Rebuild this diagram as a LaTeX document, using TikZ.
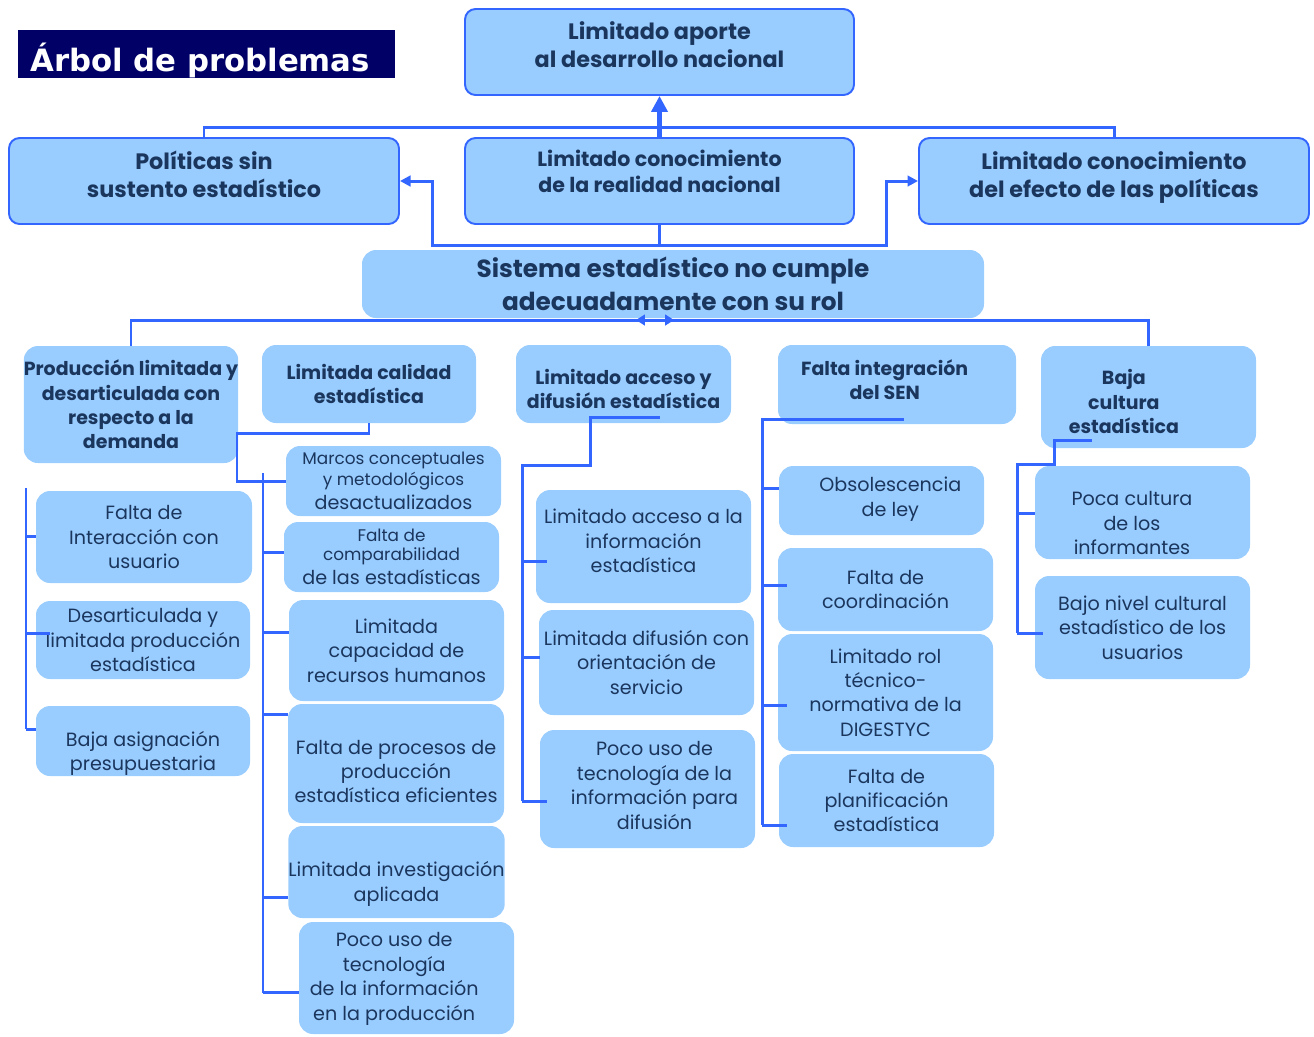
\documentclass[tikz,border=0pt]{standalone}
\usepackage{fontspec}
\setmainfont{Poppins}
\newfontfamily\headfont{DejaVu Sans}
\usetikzlibrary{arrows.meta}

\definecolor{cellfill}{HTML}{99CCFF}
\definecolor{linkblue}{HTML}{3366FF}
\definecolor{inkblue}{HTML}{1B365D}
\definecolor{titlenavy}{HTML}{000066}

\def\smallline{\fontsize{9.6}{12}\selectfont}
\def\bodyline{\fontsize{10.9}{13.9}\selectfont}
% Text block moved by (dx, dy) inside its box
\newcommand\offtext[3]{\raisebox{#2}[0pt][0pt]{\hspace*{#1}\begin{tabular}{@{}c@{}}#3\end{tabular}\hspace*{-#1}}}

\begin{document}
\begin{tikzpicture}[x=0.02cm, y=-0.02cm,
    cell/.style={rectangle, rounded corners=8pt, fill=cellfill, text=inkblue,
        inner sep=0pt, align=center, font=\bodyline},
    head/.style={cell, font=\bfseries\fontsize{10.8}{13.9}\selectfont},
    framed/.style={cell, rounded corners=6pt, draw=linkblue, line width=1.1pt,
        font=\bfseries\fontsize{12.7}{16.4}\selectfont},
    wh/.style 2 args={minimum width=#1*0.02cm, minimum height=#2*0.02cm},
    conn/.style={draw=linkblue, line width=1.7pt},
    tip/.style={-{Triangle[length=6pt,width=6pt]}}]
    \useasboundingbox (0,0) rectangle (1314,1036);

    % Title
    \node[fill=titlenavy, wh={377}{48}, inner sep=0pt] (title) at (206.5,54) {};
    \node[anchor=base west, text=white, inner sep=0pt,
        font=\headfont\bfseries\fontsize{17.5}{20}\selectfont] (titletext) at (30,71) {Árbol de problemas};

    % Effects
    \node[framed, wh={389}{86}, font=\bfseries\fontsize{12.7}{15.9}\selectfont] (top) at (659.5,52)
        {\offtext{0pt}{-0.8pt}{Limitado aporte\\al desarrollo nacional}};
    \node[framed, wh={390}{86}] (pol) at (204,181) {\offtext{0pt}{-1.1pt}{Políticas sin\\sustento estadístico}};
    \node[framed, wh={389}{86}, font=\bfseries\fontsize{11.7}{14.7}\selectfont] (real) at (659.5,181)
        {\offtext{0pt}{0.7pt}{Limitado conocimiento\\de la realidad nacional}};
    \node[framed, wh={390}{86}] (efec) at (1114,181) {\offtext{0pt}{-1.1pt}{Limitado conocimiento\\del efecto de las políticas}};

    % Central problem
    \node[cell, wh={622}{68}, font=\bfseries\fontsize{14.1}{18.7}\selectfont] (core) at (673,284)
        {Sistema estadístico no cumple\\adecuadamente con su rol};

    % Causes
    \node[head, wh={214}{117}] (prod) at (131,404.5) {Producción limitada y\\desarticulada con\\respecto a la\\demanda};
    \node[head, wh={214}{78}] (cal) at (369,384) {Limitada calidad\\estadística};
    \node[head, wh={215}{78}] (acc) at (623.5,384) {\offtext{0pt}{-7pt}{Limitado acceso y\\difusión estadística}};
    \node[head, wh={238}{79}] (sen) at (897,384.5) {\offtext{-7pt}{-1.5pt}{Falta integración\\del SEN}};
    \node[head, wh={215}{102}] (cult) at (1148.5,397) {\offtext{-14pt}{-7pt}{Baja\\cultura\\estadística}};

    % Sub-causes, first column
    \node[cell, wh={216}{92}] (prod1) at (144,537) {Falta de\\Interacción con\\usuario};
    \node[cell, wh={214}{78}] (prod2) at (143,640) {Desarticulada y\\limitada producción\\estadística};
    \node[cell, wh={214}{70}] (prod3) at (143,741) {\offtext{0pt}{-10pt}{Baja asignación\\presupuestaria}};

    % Sub-causes, second column
    \node[cell, wh={215}{70}] (cal1) at (393.5,481)
        {\smallline Marcos conceptuales\\[-2pt]\smallline y metodológicos\\[0pt]\bodyline desactualizados};
    \node[cell, wh={215}{70}] (cal2) at (391.5,557)
        {\smallline Falta de\\[-3pt]\smallline comparabilidad\\[0pt]\bodyline de las estadísticas};
    \node[cell, wh={215}{101}] (cal3) at (396.5,650.5) {Limitada\\capacidad de\\recursos humanos};
    \node[cell, wh={216}{119}] (cal4) at (396,763.5) {\offtext{0pt}{-8.5pt}{Falta de procesos de\\producción\\estadística eficientes}};
    \node[cell, wh={215}{92}] (cal5) at (396.5,872) {\offtext{0pt}{-9.5pt}{Limitada investigación\\aplicada}};
    \node[cell, wh={215}{112}] (cal6) at (406.5,978) {\offtext{-7pt}{-3pt}{Poco uso de\\tecnología\\de la información\\en la producción}};

    % Sub-causes, third column
    \node[cell, wh={215}{113}] (acc1) at (643.5,546.5) {\offtext{0pt}{-1pt}{Limitado acceso a la\\información\\estadística}};
    \node[cell, wh={215}{105}] (acc2) at (646.5,662.5) {Limitada difusión con\\orientación de\\servicio};
    \node[cell, wh={215}{118}] (acc3) at (647.5,789) {\offtext{4pt}{-2pt}{Poco uso de\\tecnología de la\\información para\\difusión}};

    % Sub-causes, fourth column
    \node[cell, wh={205}{69}] (sen1) at (881.5,500.5) {\offtext{5pt}{-2pt}{Obsolescencia\\de ley}};
    \node[cell, wh={215}{83}] (sen2) at (885.5,589.5) {Falta de\\coordinación};
    \node[cell, wh={215}{117}] (sen3) at (885.5,692.5) {Limitado rol\\técnico-\\normativa de la\\DIGESTYC};
    \node[cell, wh={215}{93}] (sen4) at (886.5,800.5) {Falta de\\planificación\\estadística};

    % Sub-causes, fifth column
    \node[cell, wh={215}{93}] (cult1) at (1142.5,512.5) {\offtext{-6pt}{-10pt}{Poca cultura\\de los\\informantes}};
    \node[cell, wh={215}{103}] (cult2) at (1142.5,627.5) {Bajo nivel cultural\\estadístico de los\\usuarios};

    % Upper links
    \coordinate (busT) at (659,127);
    \coordinate (jL) at (432,245);
    \coordinate (jR) at (886,245);
    \draw[conn] (pol.north) |- (busT) -| (efec.north);
    \draw[conn, line width=3pt, -{Triangle[length=9pt,width=9pt]}] (real.north) -- (top.south);
    \draw[conn, tip] (real.south) |- (jL) |- (pol.east);
    \draw[conn, tip] (real.south) |- (jR) |- (efec.west);

    % Links below the central problem
    \coordinate (busC) at (660,320);
    \coordinate (dl) at (636,320);
    \coordinate (dr) at (674,320);
    \draw[conn] (prod.north) |- (busC) -| (cult.north);
    \draw[conn, {Triangle[length=5pt,width=6pt]}-{Triangle[length=5pt,width=6pt]}] (dl) -- (dr);

    % First column bus
    \draw[conn] (26,488) -- (26,729);
    \foreach \n/\y/\e in {prod1/536/0, prod2/633/14, prod3/729/0}
        \draw[conn] (26,\y) -- ([xshift=\e*0.02cm]\n.west |- 0,\y);

    % Second column bus
    \coordinate (calA) at (237,433);
    \draw[conn] (cal.south) |- (calA) |- (cal1.west);
    \draw[conn] (263,473) -- (263,993);
    \foreach \n/\y in {cal2/552, cal3/632, cal4/714, cal5/897, cal6/992}
        \draw[conn] (263,\y) -- (\n.west |- 0,\y);

    % Third column bus
    \coordinate (accA) at (660,417);
    \coordinate (accB) at (590,465);
    \draw[conn] (accA) -| (accB) -- (522,465) -- (522,801);
    \foreach \n/\y/\e in {acc1/561/11, acc2/657/1, acc3/801/7}
        \draw[conn] (522,\y) -- ([xshift=\e*0.02cm]\n.west |- 0,\y);

    % Fourth column bus
    \coordinate (senA) at (904,419);
    \draw[conn] (senA) -| (762,825);
    \foreach \n/\y/\e in {sen1/488/0, sen2/585/9, sen3/705/9, sen4/825/8}
        \draw[conn] (762,\y) -- ([xshift=\e*0.02cm]\n.west |- 0,\y);

    % Fifth column bus
    \coordinate (cultA) at (1092,440);
    \draw[conn] (cultA) -| (1054,464) -| (1017,633);
    \foreach \n/\y/\e in {cult1/513/0, cult2/633/8}
        \draw[conn] (1017,\y) -- ([xshift=\e*0.02cm]\n.west |- 0,\y);
\end{tikzpicture}
\end{document}
